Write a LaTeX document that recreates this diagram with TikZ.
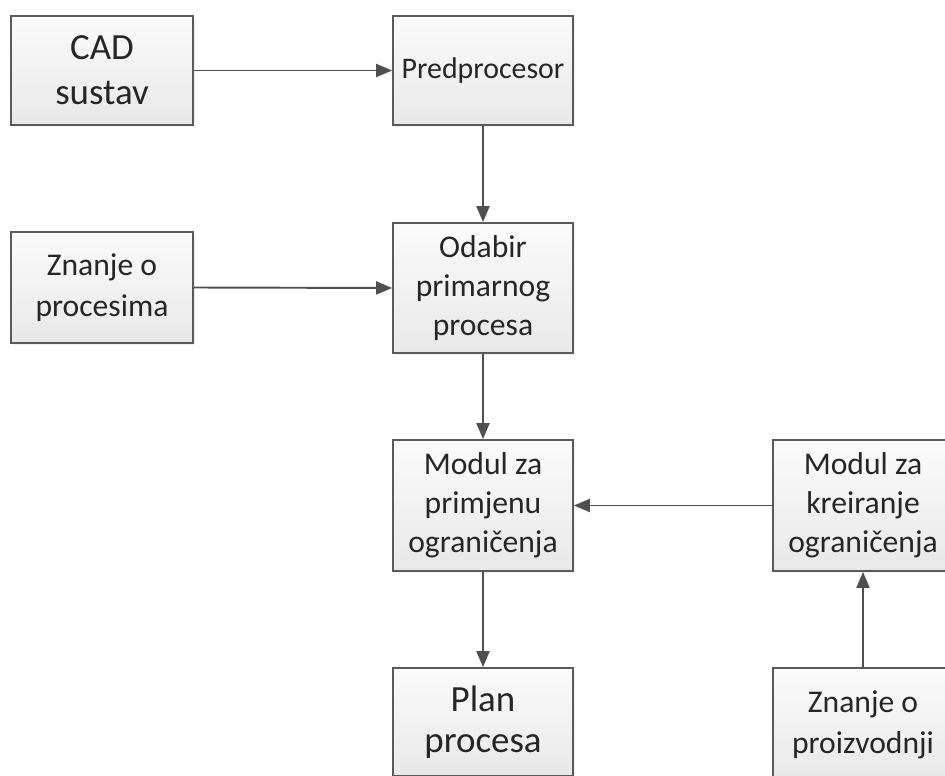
\documentclass[tikz,border=0pt]{standalone}
\usepackage{fontspec}
\setmainfont{Carlito}
\usetikzlibrary{arrows.meta,shadows}
\definecolor{boxline}{HTML}{5A5A5A}
\definecolor{boxtop}{HTML}{FBFBFB}
\definecolor{boxbottom}{HTML}{E8E8E8}
\definecolor{boxtext}{HTML}{262626}
\definecolor{flowline}{HTML}{4F4F4F}
\begin{document}
\begin{tikzpicture}[x=0.02cm, y=-0.02cm,
    box/.style={draw=boxline, line width=1pt, top color=boxtop, bottom color=boxbottom,
      drop shadow={shadow xshift=1.2pt, shadow yshift=-1.2pt, opacity=0.12},
      align=center, inner sep=0pt, text=boxtext, minimum width=3.6cm,
      font=\fontsize{18}{22.3}\selectfont},
    bigtext/.style={font=\fontsize{21}{25.5}\selectfont},
    flow/.style={draw=flowline, line width=1.1pt, -{Triangle[length=0.32cm, width=0.26cm]}}]
   \useasboundingbox (0,0) rectangle (945,776);
   \clip (0,0) rectangle (945,776);
   % left column
   \node [box, bigtext, minimum width=3.64cm, minimum height=2.18cm] (cad) at (102,70.5) {CAD\\sustav};
   \node [box, minimum width=3.64cm, minimum height=2.22cm, font=\fontsize{18}{23.3}\selectfont] (znanjeproc) at (102,287.5) {Znanje o\\procesima};
   % middle column
   \node [box, minimum height=2.18cm, font=\fontsize{17}{21}\selectfont] (predproc) at (483,70.5) {Predprocesor};
   \node [box, minimum height=2.6cm] (odabir) at (483,288) {Odabir\\primarnog\\procesa};
   \node [box, minimum height=2.62cm] (primjena) at (483,505.5) {Modul za\\primjenu\\ograničenja};
   \node [box, bigtext, minimum height=2.16cm, font=\fontsize{21}{23}\selectfont] (plan) at (483,722) {Plan\\procesa};
   % right column
   \node [box, minimum height=2.62cm] (kreiranje) at (863,505.5) {Modul za\\kreiranje\\ograničenja};
   \node [box, minimum height=2.28cm, font=\fontsize{18}{23.3}\selectfont] (znanjeproizv) at (863,725) {Znanje o\\proizvodnji};
   % arrows
   \draw [flow] (cad.east) -- (predproc.west);
   \draw [flow] (predproc.south) -- (odabir.north);
   \draw [flow] (znanjeproc.east) -- (odabir.west);
   \draw [flow] (odabir.south) -- (primjena.north);
   \draw [flow] (kreiranje.west) -- (primjena.east);
   \draw [flow] (primjena.south) -- (plan.north);
   \draw [flow] (znanjeproizv.north) -- (kreiranje.south);
\end{tikzpicture}
\end{document}
